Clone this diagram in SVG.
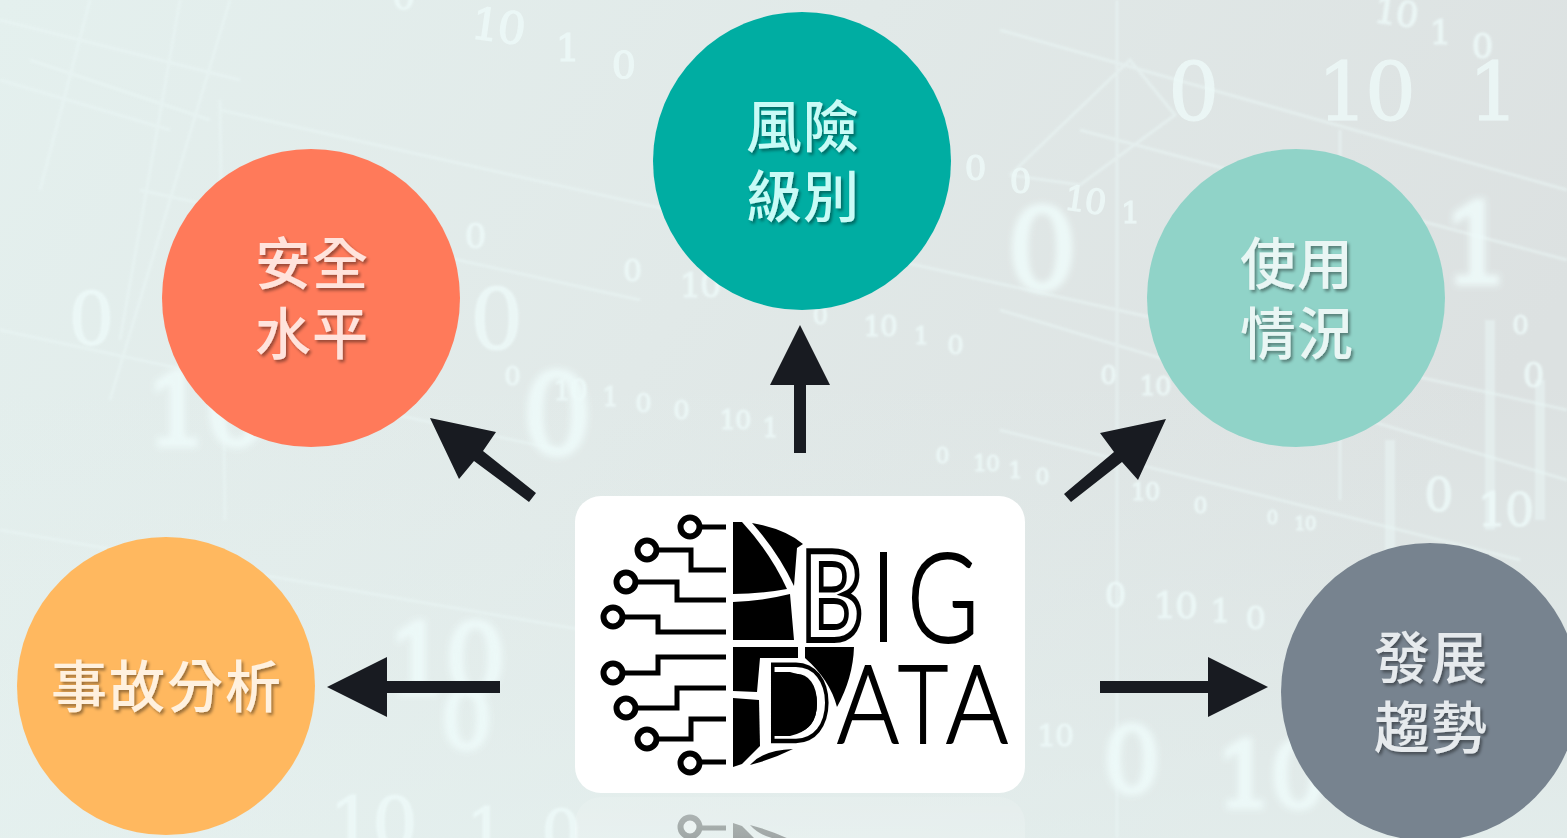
<svg xmlns="http://www.w3.org/2000/svg" xmlns:xlink="http://www.w3.org/1999/xlink" width="1567" height="838" viewBox="0 0 1567 838">
<style>
.d{font-family:"DejaVu Serif","Liberation Serif",serif;letter-spacing:-.04em;fill:#eefaf9;stroke:#eefaf9;stroke-width:1.2;text-anchor:middle;dominant-baseline:central;opacity:.8}
.b{filter:url(#bl2);opacity:.9;stroke-width:5}
.s{filter:url(#bl1)}
.ln{stroke:#eaf6f5;fill:none;opacity:.55;filter:url(#bl1)}
.lb{font-family:"Noto Sans CJK TC","Noto Sans CJK SC",sans-serif;font-size:56px;font-weight:500;text-anchor:middle;letter-spacing:1px;filter:url(#sh)}
.lg{font-family:"Lato","Liberation Sans",sans-serif;font-weight:300;text-anchor:middle;stroke:#000;stroke-width:2}
.ol{font-weight:700;fill:#fff;stroke-width:6}
.arrow{fill:#181b21}
.w{stroke:#000;stroke-width:5;fill:none}
.c{stroke:#000;stroke-width:6;fill:#fff}
</style>
<defs>
<linearGradient id="bg" x1="0" y1="0" x2="1" y2="0.35">
<stop offset="0" stop-color="#e4f0ee"/><stop offset=".5" stop-color="#e1e9e8"/><stop offset="1" stop-color="#dce1e1"/>
</linearGradient>
<linearGradient id="bg2" x1="0" y1="0" x2="0" y2="1">
<stop offset=".45" stop-color="#e6f3f1" stop-opacity="0"/><stop offset="1" stop-color="#e6f3f1" stop-opacity=".6"/>
</linearGradient>
<linearGradient id="fade" x1="0" y1="796" x2="0" y2="838" gradientUnits="userSpaceOnUse">
<stop offset="0" stop-color="#fff" stop-opacity=".35"/><stop offset="1" stop-color="#fff" stop-opacity=".5"/>
</linearGradient>
<filter id="bl1" x="-30%" y="-30%" width="160%" height="160%"><feGaussianBlur stdDeviation="1"/></filter>
<filter id="bl2" x="-30%" y="-30%" width="160%" height="160%"><feGaussianBlur stdDeviation="3"/></filter>
<filter id="sh" x="-20%" y="-20%" width="140%" height="140%"><feDropShadow dx="2" dy="2.5" stdDeviation="1.5" flood-color="#000" flood-opacity=".4"/></filter>
<mask id="rm"><rect x="560" y="794" width="480" height="44" fill="url(#fade)"/></mask>
<g id="logo">
<g class="circuit">
<path class="w" d="M699 527H726M656 550H691V570H726M636 582H677V600H726M623 617H658V632H726M623 673H658V657H726M636 708H677V688H726M656 739H691V719H726M699 762H726"/>
<circle class="c" cx="690" cy="527" r="9.5"/><circle class="c" cx="647" cy="550" r="9.5"/><circle class="c" cx="626" cy="582" r="9.5"/><circle class="c" cx="613" cy="617" r="9.5"/>
<circle class="c" cx="613" cy="673" r="9.5"/><circle class="c" cx="626" cy="708" r="9.5"/><circle class="c" cx="647" cy="739" r="9.5"/><circle class="c" cx="690" cy="763" r="9.5"/>
</g>
<path d="M733 522H742Q770 552 787 589Q760 594 733 594Z"/>
<path d="M752 523Q785 529 803 544L797 548L794 586Q778 552 752 523Z"/>
<path d="M733 602Q762 601 790 594L794 640H733Z"/>
<path d="M733 647H798V658L760 658L757 692L733 691Z"/>
<path d="M805 647H854Q853 678 837 707Q830 680 805 658Z"/>
<path d="M733 698L759 700L760 746L742 764L733 767Z"/>
<path d="M750 765Q763 750 793 749Q773 759 750 765Z"/>
<path d="M773 672H790Q817 678 817 704Q817 730 790 736H773Z"/>
<text class="lg ol" x="832" y="640" font-size="122" textLength="62" lengthAdjust="spacingAndGlyphs">B</text>
<rect x="880" y="552" width="7" height="90"/>
<text class="lg" x="943" y="642" font-size="125" textLength="72" lengthAdjust="spacingAndGlyphs">G</text>
<text class="lg ol" x="798" y="741" font-size="106" textLength="64" lengthAdjust="spacingAndGlyphs" style="fill:none;stroke-width:4.5">D</text>
<text class="lg" x="868" y="743" font-size="108" textLength="62" lengthAdjust="spacingAndGlyphs">A</text>
<text class="lg" x="923" y="743" font-size="108" textLength="50" lengthAdjust="spacingAndGlyphs">T</text>
<text class="lg" x="977" y="743" font-size="108" textLength="62" lengthAdjust="spacingAndGlyphs">A</text>
</g>
</defs>
<g id="background">
<rect width="1567" height="838" fill="url(#bg)"/>
<rect width="1567" height="838" fill="url(#bg2)"/>
<g class="ln" stroke-width="3">
<path d="M0 20L240 80M30 60L210 120M0 80L170 130M140 190L640 300M220 110L1567 410M0 330L560 450M0 530L700 650M1000 30L1567 190M1080 130L1567 260M1000 310L1567 480M1000 430L1520 560"/>
<path d="M90 0L40 190M230 0L110 400M180 0L120 340M220 100L225 520M1117 0V838M1340 130V500M1010 175L1130 60L1175 115L1080 185L1010 175"/>
</g>
<g class="ln" stroke-width="10"><path d="M1490 320V530M1390 440V560M1540 380V520"/></g>
<text class="d s" x="403" y="-4" font-size="36">0</text>
<text class="d" x="498" y="26" font-size="44" transform="rotate(8 498 26)">10</text>
<text class="d" x="567" y="48" font-size="38">1</text>
<text class="d" x="623" y="65" font-size="38">0</text>
<text class="d" x="1192" y="92" font-size="80">0</text>
<text class="d" x="1365" y="92" font-size="80">10</text>
<text class="d" x="1492" y="92" font-size="80">1</text>
<text class="d s" x="1396" y="12" font-size="36" transform="rotate(8 1396 12)">10</text>
<text class="d s" x="1440" y="32" font-size="34">1</text>
<text class="d s" x="1482" y="46" font-size="34">0</text>
<text class="d" x="975" y="168" font-size="34">0</text>
<text class="d" x="1020" y="181" font-size="34">0</text>
<text class="d" x="1085" y="200" font-size="34" transform="rotate(8 1085 200)">10</text>
<text class="d" x="1130" y="212" font-size="30">1</text>
<text class="d b" x="1040" y="250" font-size="110">0</text>
<text class="d b" x="1475" y="245" font-size="110">1</text>
<text class="d s" x="90" y="320" font-size="72">0</text>
<text class="d s" x="495" y="320" font-size="84">0</text>
<text class="d s" x="475" y="236" font-size="34">0</text>
<text class="d s" x="632" y="270" font-size="30">0</text>
<text class="d s" x="700" y="285" font-size="34">10</text>
<text class="d s" x="512" y="376" font-size="26">0</text>
<text class="d s" x="570" y="390" font-size="28">10</text>
<text class="d s" x="610" y="397" font-size="26">1</text>
<text class="d s" x="643" y="403" font-size="26">0</text>
<text class="d s" x="681" y="410" font-size="26">0</text>
<text class="d s" x="735" y="420" font-size="26">10</text>
<text class="d s" x="770" y="428" font-size="26">1</text>
<text class="d b" x="205" y="410" font-size="100">10</text>
<text class="d b" x="555" y="415" font-size="110">0</text>
<text class="d s" x="820" y="316" font-size="24">0</text>
<text class="d s" x="880" y="326" font-size="28">10</text>
<text class="d s" x="921" y="336" font-size="24">1</text>
<text class="d s" x="955" y="345" font-size="26">0</text>
<text class="d s" x="1108" y="375" font-size="26">0</text>
<text class="d s" x="1155" y="386" font-size="26">10</text>
<text class="d s" x="942" y="455" font-size="22">0</text>
<text class="d s" x="986" y="463" font-size="22">10</text>
<text class="d s" x="1015" y="470" font-size="22">1</text>
<text class="d s" x="1042" y="476" font-size="22">0</text>
<text class="d s" x="1145" y="492" font-size="24">10</text>
<text class="d s" x="1200" y="505" font-size="22">0</text>
<text class="d s" x="1272" y="517" font-size="18">0</text>
<text class="d s" x="1305" y="523" font-size="18">10</text>
<text class="d s" x="1438" y="495" font-size="46">0</text>
<text class="d s" x="1505" y="510" font-size="46">10</text>
<text class="d s" x="1520" y="325" font-size="26">0</text>
<text class="d s" x="1533" y="375" font-size="34">0</text>
<text class="d s" x="1115" y="595" font-size="34">0</text>
<text class="d s" x="1175" y="605" font-size="36">10</text>
<text class="d s" x="1220" y="611" font-size="32">1</text>
<text class="d s" x="1255" y="618" font-size="32">0</text>
<text class="d b" x="445" y="660" font-size="96">10</text>
<text class="d b" x="465" y="720" font-size="80">0</text>
<text class="d b" x="1130" y="760" font-size="90">0</text>
<text class="d b" x="1270" y="775" font-size="90">10</text>
<text class="d s" x="1055" y="735" font-size="30">10</text>
<text class="d s" x="372" y="825" font-size="72">10</text>
<text class="d s" x="485" y="830" font-size="62">1</text>
<text class="d s" x="560" y="832" font-size="62">0</text>
</g>
<g id="reflection" mask="url(#rm)">
<rect x="575" y="797" width="450" height="297" rx="26" fill="#fff" opacity=".35"/>
<use xlink:href="#logo" href="#logo" transform="translate(0 1590) scale(1 -1)" opacity=".6"/>
</g>
<g id="connectors">
<path class="arrow" d="M800 325L830 385H806V453H794V385H770Z"/>
<path class="arrow" d="M430 418L496 432L483 451L536 493L529 502L474 461L459 479Z"/>
<path class="arrow" d="M1166 419L1100 433L1114 452L1064 494L1071 502L1122 462L1138 480Z"/>
<path class="arrow" d="M327 687L387 657V681H500V693H387V717Z"/>
<path class="arrow" d="M1268 687L1208 657V681H1100V693H1208V717Z"/>
</g>
<g id="node-risk">
<circle cx="802" cy="161" r="149" fill="#00ada2"/>
<text class="lb" x="803" y="147" fill="#c8fbf6">風險</text>
<text class="lb" x="803" y="217" fill="#c8fbf6">級別</text>
</g>
<g id="node-safety">
<circle cx="311" cy="298" r="149" fill="#ff7a5a"/>
<text class="lb" x="312" y="284" fill="#ffe3dc">安全</text>
<text class="lb" x="312" y="354" fill="#ffe3dc">水平</text>
</g>
<g id="node-usage">
<circle cx="1296" cy="298" r="149" fill="#90d3c8"/>
<text class="lb" x="1297" y="284" fill="#e9f6f4">使用</text>
<text class="lb" x="1297" y="354" fill="#e9f6f4">情況</text>
</g>
<g id="node-accident">
<circle cx="166" cy="686" r="149" fill="#ffb85f"/>
<text class="lb" x="167" y="707" fill="#fff1df" style="letter-spacing:2px">事故分析</text>
</g>
<g id="node-trend">
<circle cx="1430" cy="692" r="149" fill="#77838f"/>
<text class="lb" x="1431" y="678" fill="#e6eaed">發展</text>
<text class="lb" x="1431" y="748" fill="#e6eaed">趨勢</text>
</g>
<g id="node-bigdata">
<rect x="575" y="496" width="450" height="297" rx="26" fill="#fff"/>
<use xlink:href="#logo" href="#logo"/>
</g>
</svg>
